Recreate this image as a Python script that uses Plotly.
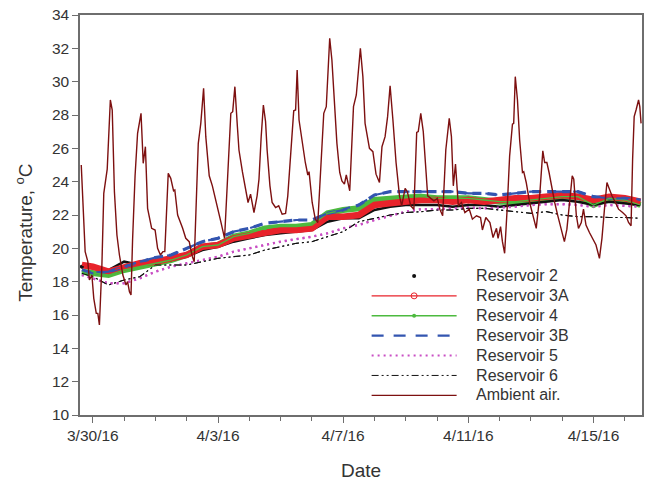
import numpy as np
import pandas as pd
import plotly.graph_objects as go

# ---------------- data (days after 3/30/16 00:00, temperature in deg C) ----------------
amb_days = [-0.37, -0.30, -0.245, -0.16, -0.11, -0.03, 0.03, 0.11, 0.16, 0.21, 0.29, 0.35, 0.46, 0.56, 0.62,
            0.69, 0.77, 0.85, 0.96, 1.06, 1.11, 1.17, 1.22, 1.27, 1.35, 1.43, 1.54, 1.61, 1.68, 1.75,
            1.88, 1.99, 2.07, 2.16, 2.24, 2.30, 2.41, 2.49, 2.58, 2.62, 2.71, 2.87, 2.97, 3.08, 3.18,
            3.24, 3.29, 3.37, 3.45, 3.54, 3.61, 3.72, 3.82, 3.98, 4.09, 4.21, 4.30, 4.41, 4.47, 4.54,
            4.62, 4.67, 4.78, 4.88, 4.96, 5.04, 5.15, 5.25, 5.31, 5.38, 5.45, 5.52, 5.57, 5.66, 5.73,
            5.84, 5.94, 6.05, 6.16, 6.23, 6.34, 6.42, 6.48, 6.53, 6.59, 6.69, 6.79, 6.87, 6.91, 7.01,
            7.11, 7.19, 7.27, 7.38, 7.46, 7.57, 7.64, 7.72, 7.80, 7.89, 7.96, 8.04, 8.10, 8.21, 8.28,
            8.33, 8.42, 8.48, 8.55, 8.63, 8.70, 8.84, 8.95, 9.05, 9.16, 9.24, 9.34, 9.42, 9.50, 9.59,
            9.69, 9.80, 9.87, 9.98, 10.05, 10.16, 10.26, 10.35, 10.40, 10.48, 10.56, 10.65, 10.70, 10.80, 10.90,
            11.01, 11.09, 11.18, 11.28, 11.39, 11.46, 11.52, 11.59, 11.68, 11.78, 11.89, 12.03, 12.13, 12.26, 12.39,
            12.45, 12.56, 12.69, 12.79, 12.90, 12.95, 13.03, 13.09, 13.16, 13.24, 13.32, 13.41, 13.45, 13.50, 13.57,
            13.64, 13.73, 13.77, 13.85, 13.96, 14.07, 14.17, 14.28, 14.38, 14.44, 14.51, 14.58, 14.65, 14.76, 14.86,
            14.97, 15.07, 15.15, 15.23, 15.32, 15.37, 15.45, 15.52, 15.61, 15.68, 15.76, 15.87, 15.98, 16.08, 16.19,
            16.27, 16.35, 16.43, 16.51, 16.59, 16.70, 16.80, 16.93, 17.04, 17.12, 17.20, 17.25, 17.30, 17.36, 17.44,
            17.48, 17.52]
amb_temp = [25.0, 22.0, 19.8, 19.2, 18.1, 18.4, 17.0, 16.1, 16.1, 15.4, 19.0, 23.3, 24.75, 28.9, 28.3,
            23.4, 20.8, 19.6, 18.4, 17.8, 18.0, 17.4, 17.2, 20.5, 24.35, 26.9, 28.1, 25.1, 26.1, 22.4,
            21.2, 21.1, 20.0, 19.6, 19.8, 19.8, 24.5, 24.2, 23.45, 23.5, 22.0, 21.2, 20.6, 20.4, 19.5,
            19.2, 22.5, 26.3, 27.5, 29.6, 26.7, 24.35, 23.75, 22.55, 21.6, 20.6, 23.95, 28.1, 28.2, 29.7,
            27.3, 25.9, 24.6, 23.45, 22.75, 23.25, 22.15, 23.15, 24.15, 26.7, 28.6, 27.6, 25.9, 23.75, 22.75,
            22.45, 22.55, 22.05, 22.1, 23.15, 26.5, 28.25, 28.3, 30.7, 27.7, 26.3, 25.15, 24.4, 24.6, 22.75,
            21.75, 21.55, 24.35, 28.1, 28.5, 32.6, 31.3, 28.5, 26.3, 24.55, 24.05, 23.85, 24.4, 23.45, 26.3,
            28.5, 29.2, 30.5, 32.0, 30.3, 27.5, 26.0, 25.8, 24.45, 23.95, 26.1, 26.7, 27.9, 29.75, 27.7,
            25.15, 23.15, 22.55, 23.6, 23.4, 22.55, 22.35, 26.95, 27.0, 28.1, 27.0, 24.55, 23.15, 23.0, 22.85,
            23.0, 22.35, 21.95, 25.9, 27.8, 26.7, 23.75, 25.05, 22.55, 22.75, 22.15, 22.35, 21.75, 21.95, 21.85,
            21.1, 21.85, 21.55, 20.65, 21.2, 20.6, 21.3, 20.4, 19.7, 22.35, 25.55, 27.45, 27.5, 30.3, 28.9,
            26.5, 24.55, 24.6, 23.95, 22.75, 21.95, 21.2, 23.15, 25.85, 25.15, 25.15, 24.55, 23.75, 22.75, 21.95,
            21.2, 20.4, 21.15, 22.75, 24.35, 24.15, 22.0, 21.2, 21.55, 22.35, 21.4, 20.95, 20.6, 20.2, 19.4,
            20.6, 22.35, 23.95, 23.55, 23.15, 22.75, 22.35, 22.15, 21.95, 21.55, 21.35, 25.35, 27.9, 28.3, 28.9,
            28.5, 27.5]

res_days = [-0.35, 0.0, 0.5, 1.0, 1.5, 2.0, 2.5, 3.0, 3.5, 4.0, 4.5, 5.0, 5.5, 6.0, 6.5, 7.0, 7.5, 8.0, 8.5,
            9.0, 9.5, 10.0, 10.5, 11.0, 11.5, 12.0, 12.5, 13.0, 13.5, 14.0, 14.5, 15.0, 15.5, 16.0, 16.5, 17.0, 17.5]
res2 = [18.9, 18.8, 18.7, 19.2, 19.0, 19.2, 19.3, 19.5, 19.9, 20.1, 20.4, 20.6, 20.8, 20.9, 21.0, 21.1, 21.6, 21.8, 21.8,
        22.3, 22.5, 22.6, 22.6, 22.6, 22.5, 22.6, 22.6, 22.5, 22.6, 22.7, 22.8, 22.9, 22.8, 22.6, 22.8, 22.7, 22.6]
res3a = [19.0, 18.9, 18.6, 18.9, 19.1, 19.2, 19.4, 19.6, 20.1, 20.2, 20.6, 20.8, 21.0, 21.1, 21.1, 21.2, 21.9, 21.9, 22.0,
         22.6, 22.7, 22.8, 22.9, 22.9, 22.8, 22.9, 22.8, 22.9, 23.0, 23.0, 23.1, 23.2, 23.1, 22.9, 23.1, 23.0, 22.8]
res4 = [18.6, 18.5, 18.4, 18.7, 18.9, 19.1, 19.3, 19.6, 20.1, 20.2, 20.7, 20.9, 21.2, 21.3, 21.3, 21.4, 22.1, 22.3, 22.4,
        22.9, 23.0, 23.05, 23.1, 23.0, 23.0, 23.0, 22.9, 22.8, 22.8, 22.9, 23.0, 23.1, 23.1, 22.6, 23.0, 22.9, 22.6]
res3b = [18.7, 18.5, 18.6, 18.9, 19.2, 19.45, 19.6, 20.0, 20.4, 20.6, 21.0, 21.2, 21.5, 21.6, 21.7, 21.7, 22.1, 22.3, 22.6,
         23.2, 23.4, 23.4, 23.4, 23.4, 23.4, 23.3, 23.3, 23.2, 23.3, 23.4, 23.4, 23.4, 23.4, 23.1, 23.0, 23.0, 22.9]
res5 = [18.4, 18.2, 17.9, 17.9, 18.2, 18.6, 18.9, 19.1, 19.3, 19.5, 19.8, 20.0, 20.2, 20.4, 20.55, 20.7, 20.9, 21.2, 21.4,
        21.7, 21.95, 22.2, 22.35, 22.35, 22.4, 22.45, 22.4, 22.45, 22.5, 22.6, 22.65, 22.65, 22.6, 22.5, 22.6, 22.55, 22.5]
res6 = [18.5, 18.3, 17.8, 18.1, 18.3, 19.0, 19.0, 19.0, 19.2, 19.4, 19.5, 19.6, 19.9, 20.1, 20.3, 20.4, 20.7, 21.0, 21.6,
        21.8, 22.0, 22.15, 22.2, 22.3, 22.3, 22.4, 22.4, 22.3, 22.2, 22.1, 22.2, 22.0, 21.9, 21.9, 21.85, 21.85, 21.8]

series_names = ["Reservoir 2", "Reservoir 3A", "Reservoir 4", "Reservoir 3B", "Reservoir 5", "Reservoir 6", "Ambient air."]
tick_dates = ["2016-03-30", "2016-04-03", "2016-04-07", "2016-04-11", "2016-04-15"]
tick_labels = ["3/30/16", "4/3/16", "4/7/16", "4/11/16", "4/15/16"]
y_ticks = [10, 12, 14, 16, 18, 20, 22, 24, 26, 28, 30, 32, 34]
x_title = "Date"
y_title = "Temperature, <sup>o</sup>C"

# ---------------- figure ----------------
base = pd.Timestamp("2016-03-30")
def to_time(days):
    return base + pd.to_timedelta(np.array(days, dtype=float), unit="D")

tr = to_time(res_days)
ta = to_time(amb_days)

FONT = "Liberation Sans, Arial, sans-serif"
TXT = "#333333"
AX = "#6e6e6e"
PAD = "\u00a0" * 4

def lname(s):
    return PAD + "<span style='font-size:16px'>" + s + "</span>"

fig = go.Figure()

# band traces (no legend)
fig.add_trace(go.Scatter(x=tr, y=res5, mode="lines", showlegend=False, hoverinfo="skip",
                         line=dict(color="#c94fc4", width=2.5, dash="2px,4px")))
fig.add_trace(go.Scatter(x=tr, y=res6, mode="lines", showlegend=False, hoverinfo="skip",
                         line=dict(color="#111111", width=1.1, dash="7px,3px,2px,3px,2px,3px")))
fig.add_trace(go.Scatter(x=tr, y=res4, mode="lines", showlegend=False, hoverinfo="skip",
                         line=dict(color="#4dba3f", width=6)))
fig.add_trace(go.Scatter(x=tr, y=res2, mode="lines", showlegend=False, hoverinfo="skip",
                         line=dict(color="#111111", width=2.5)))
fig.add_trace(go.Scatter(x=tr, y=res3a, mode="lines", showlegend=False, hoverinfo="skip",
                         line=dict(color="#e8232b", width=6.5)))
fig.add_trace(go.Scatter(x=tr, y=res3b, mode="lines", showlegend=False, hoverinfo="skip",
                         line=dict(color="#3355b0", width=3.2, dash="9px,6px")))

# legend traces
fig.add_trace(go.Scatter(x=tr, y=res2, mode="markers", name=lname(series_names[0]), legendrank=1,
                         marker=dict(color="#111111", size=4, maxdisplayed=1)))
fig.add_trace(go.Scatter(x=tr, y=res3a, mode="lines+markers", name=lname(series_names[1]), legendrank=2,
                         line=dict(color="#e8232b", width=1.3),
                         marker=dict(symbol="circle-open", color="#e8232b", size=6, maxdisplayed=1)))
fig.add_trace(go.Scatter(x=tr, y=res4, mode="lines+markers", name=lname(series_names[2]), legendrank=3,
                         line=dict(color="#4dba3f", width=1.3),
                         marker=dict(color="#4dba3f", size=4, maxdisplayed=1)))
fig.add_trace(go.Scatter(x=tr, y=res3b, mode="lines", name=lname(series_names[3]), legendrank=4,
                         line=dict(color="#3355b0", width=2.2, dash="12px,10px")))
fig.add_trace(go.Scatter(x=tr, y=res5, mode="lines", name=lname(series_names[4]), legendrank=5,
                         line=dict(color="#c94fc4", width=2, dash="2px,4px")))
fig.add_trace(go.Scatter(x=tr, y=res6, mode="lines", name=lname(series_names[5]), legendrank=6,
                         line=dict(color="#111111", width=1, dash="7px,3px,2px,3px,2px,3px")))
fig.add_trace(go.Scatter(x=ta, y=amb_temp, mode="lines", name=lname(series_names[6]), legendrank=7,
                         line=dict(color="#7d1010", width=1.4)))

fig.update_layout(
    width=649, height=483,
    margin=dict(l=80, r=5, t=15, b=65),
    paper_bgcolor="white", plot_bgcolor="white",
    font=dict(family=FONT, color=TXT, size=15),
    legend=dict(x=0.51, y=0.385, xanchor="left", yanchor="top",
                bgcolor="rgba(0,0,0,0)", font=dict(size=13, color=TXT),
                itemwidth=85, tracegroupgap=0, itemclick=False),
    xaxis=dict(
        range=[base - pd.Timedelta(days=0.41), base + pd.Timedelta(days=17.55)],
        tickmode="array", tickvals=[pd.Timestamp(t) for t in tick_dates], ticktext=tick_labels,
        ticks="outside", ticklen=6, tickwidth=1.2, tickcolor=AX,
        minor=dict(ticks="outside", dtick=86400000, tick0="2016-03-30", ticklen=4, tickwidth=1.2, tickcolor=AX,
                   showgrid=False),
        showline=True, linecolor=AX, linewidth=1.5, mirror=True,
        showgrid=False, zeroline=False,
        tickfont=dict(size=15.5, color=TXT),
        title=dict(text=x_title, font=dict(size=19, color=TXT), standoff=20),
    ),
    yaxis=dict(
        range=[10, 34], tickmode="array", tickvals=y_ticks,
        ticks="outside", ticklen=6, tickwidth=1.2, tickcolor=AX,
        showline=True, linecolor=AX, linewidth=1.5, mirror=True,
        showgrid=False, zeroline=False,
        tickfont=dict(size=15.5, color=TXT),
    ),
    annotations=[dict(text=y_title, xref="paper", yref="paper", x=-0.1, y=0.455,
                      xanchor="center", yanchor="middle", textangle=-90, showarrow=False,
                      font=dict(size=19, color=TXT))],
)

fig.write_html("out.html")
